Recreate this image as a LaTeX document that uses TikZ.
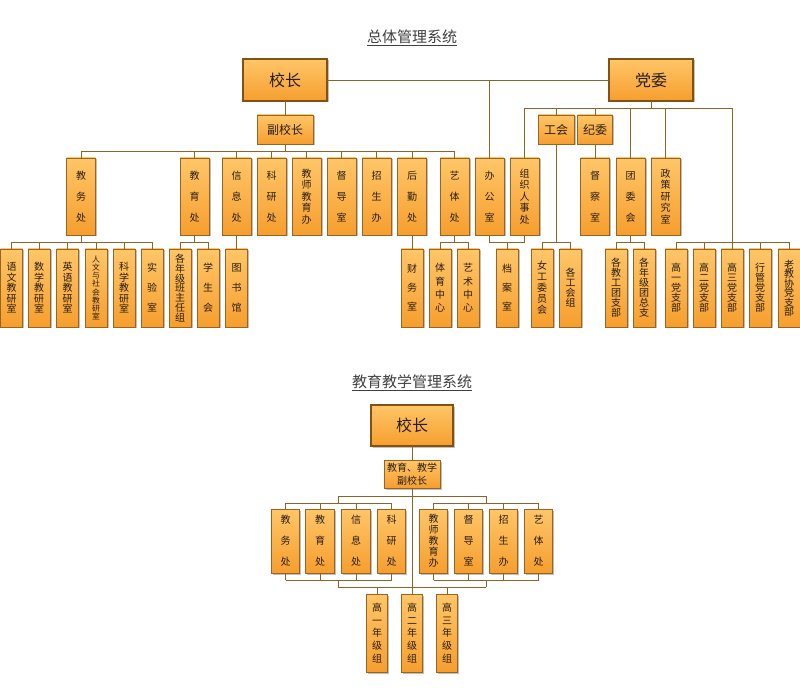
\documentclass[tikz,border=0pt]{standalone}
\usepackage{fontspec}
\setmainfont{Noto Sans CJK SC}
\usetikzlibrary{shadows}
\definecolor{boxtop}{RGB}{255,198,104}
\definecolor{boxbot}{RGB}{246,158,46}
\definecolor{boxline}{RGB}{150,100,35}
\definecolor{bigline}{RGB}{130,82,20}
\definecolor{conncol}{RGB}{140,100,40}
\definecolor{txt}{RGB}{40,30,20}
\begin{document}
\begin{tikzpicture}[x=1pt,y=-1pt,
 box/.style={draw=boxline, line width=0.8pt, top color=boxtop, bottom color=boxbot,
   inner sep=0pt, outer sep=0pt, align=center, text=txt,
   drop shadow={shadow xshift=1.5pt, shadow yshift=-1.5pt, fill=black!25, opacity=1}},
 big/.style={box, line width=1.6pt, draw=bigline, minimum width=84pt, minimum height=42pt,
   font=\fontsize{16}{20}\selectfont},
 mid/.style={box, minimum height=29pt, font=\fontsize{12}{14}\selectfont},
 rtwo/.style={box, minimum width=29pt, minimum height=77pt},
 rthree/.style={box, minimum width=22pt, minimum height=78pt},
 rtwob/.style={box, minimum width=28.5pt, minimum height=64pt},
 vsp/.style={font={\fontsize{10}{#1}\selectfont\lineskiplimit=-20pt}},
 conn/.style={draw=conncol, line width=0.8pt},
 ttl/.style={font=\fontsize{15}{17}\selectfont, text=black!75}]
\fill[white] (0,0) rectangle (800,700);
\useasboundingbox (0,0) rectangle (800,700);

% ---------- top system ----------
\node[ttl] (t1) at (412,38) {\underline{总体管理系统}};
\node[big] (xz) at (285,80) {校长};
\node[big] (dw) at (651,80) {党委};
\node[mid, minimum width=56pt] (fxz) at (285,129.5) {副校长};
\node[mid, minimum width=36pt] (gh) at (556,129.5) {工会};
\node[mid, minimum width=35pt] (jw) at (595,129.5) {纪委};

% row 2
\node[rtwo,vsp=21] (jwc) at (81,196.5) {教\\务\\处};
\node[rtwo,vsp=21] (jyc) at (194.5,196.5) {教\\育\\处};
\node[rtwo,vsp=21] (xxc) at (236.5,196.5) {信\\息\\处};
\node[rtwo,vsp=21] (kyc) at (271.5,196.5) {科\\研\\处};
\node[rtwo,vsp=11.5] (jsjy) at (306.5,196.5) {教\\师\\教\\育\\办};
\node[rtwo,vsp=21] (ddc) at (341.5,196.5) {督\\导\\室};
\node[rtwo,vsp=21] (zsb) at (376.5,196.5) {招\\生\\办};
\node[rtwo,vsp=21] (hqc) at (412,196.5) {后\\勤\\处};
\node[rtwo,vsp=21] (ytc) at (454.5,196.5) {艺\\体\\处};
\node[rtwo,vsp=21] (bgs) at (489.5,196.5) {办\\公\\室};
\node[rtwo,vsp=11.5] (zzrs) at (524.5,196.5) {组\\织\\人\\事\\处};
\node[rtwo,vsp=21] (dcs) at (595,196.5) {督\\察\\室};
\node[rtwo,vsp=21] (twh) at (630.5,196.5) {团\\委\\会};
\node[rtwo,vsp=11.5] (zcyj) at (665.5,196.5) {政\\策\\研\\究\\室};

% row 3
\node[rthree,vsp=10.5] (yw) at (11.5,288) {语\\文\\教\\研\\室};
\node[rthree,vsp=10.5] (sx) at (39,288) {数\\学\\教\\研\\室};
\node[rthree,vsp=10.5] (yy) at (67.5,288) {英\\语\\教\\研\\室};
\node[rthree,font={\fontsize{7.8}{8.2}\selectfont\lineskiplimit=-20pt}] (rw) at (96,288) {人\\文\\与\\社\\会\\教\\研\\室};
\node[rthree,vsp=10.5] (kx) at (124,288) {科\\学\\教\\研\\室};
\node[rthree,vsp=20] (sys) at (152,288) {实\\验\\室};
\node[rthree,vsp=9.8] (bzr) at (180,288) {各\\年\\级\\班\\主\\任\\组};
\node[rthree,vsp=20] (xsh) at (208,288) {学\\生\\会};
\node[rthree,vsp=20] (tsg) at (236.5,288) {图\\书\\馆};
\node[rthree,vsp=19] (cws) at (412,288) {财\\务\\室};
\node[rthree,vsp=13.3] (tyzx) at (440,288) {体\\育\\中\\心};
\node[rthree,vsp=13.3] (yszx) at (468,288) {艺\\术\\中\\心};
\node[rthree,vsp=19] (das) at (507,288) {档\\案\\室};
\node[rthree,vsp=11] (ngw) at (542,288) {女\\工\\委\\员\\会};
\node[rthree,vsp=10] (ghz) at (570.5,288) {各\\工\\会\\组};
\node[rthree,vsp=10] (gjt) at (616,288) {各\\教\\工\\团\\支\\部};
\node[rthree,vsp=10] (gnt) at (644,288) {各\\年\\级\\团\\总\\支};
\node[rthree,vsp=10] (gyd) at (676,288) {高\\一\\党\\支\\部};
\node[rthree,vsp=10] (ged) at (704,288) {高\\二\\党\\支\\部};
\node[rthree,vsp=10] (gsd) at (732,288) {高\\三\\党\\支\\部};
\node[rthree,vsp=10] (xgd) at (760,288) {行\\管\\党\\支\\部};
\node[rthree,vsp=9.5] (ljx) at (789,288) {老\\教\\协\\党\\支\\部};

% connectors top
\coordinate (bA) at (0,151);
\coordinate (bB) at (0,108);
\coordinate (bC) at (0,242);
\draw[conn] (xz.east) -- (dw.west);
\draw[conn] (bgs.north |- xz.east) -- (bgs.north);
\draw[conn] (xz.south) -- (fxz.north);
\draw[conn] (fxz.south) -- (fxz.south |- bA);
\draw[conn] (jwc.north |- bA) -- (ytc.north |- bA);
\foreach \n in {jwc,jyc,xxc,kyc,jsjy,ddc,zsb,hqc,ytc}
  \draw[conn] (\n.north |- bA) -- (\n.north);
\draw[conn] (dw.south) -- (dw.south |- bB);
\draw[conn] (zzrs.north |- bB) -- (gsd.north |- bB);
\foreach \n in {zzrs,gh,jw,twh,zcyj}
  \draw[conn] (\n.north |- bB) -- (\n.north);
\draw[conn] (gsd.north |- bB) -- (gsd.north |- bC);
\draw[conn] (jw.south) -- (dcs.north);
\draw[conn] (gh.south) -- (gh.south |- bC);
% row 3 links
\draw[conn] (jwc.south) -- (jwc.south |- bC);
\draw[conn] (yw.north |- bC) -- (sys.north |- bC);
\foreach \n in {yw,sx,yy,rw,kx,sys}
  \draw[conn] (\n.north |- bC) -- (\n.north);
\draw[conn] (jyc.south) -- (jyc.south |- bC);
\draw[conn] (bzr.north |- bC) -- (xsh.north |- bC);
\foreach \n in {bzr,xsh}
  \draw[conn] (\n.north |- bC) -- (\n.north);
\draw[conn] (xxc.south) -- (tsg.north);
\draw[conn] (hqc.south) -- (cws.north);
\draw[conn] (ytc.south) -- (ytc.south |- bC);
\draw[conn] (tyzx.north |- bC) -- (yszx.north |- bC);
\foreach \n in {tyzx,yszx}
  \draw[conn] (\n.north |- bC) -- (\n.north);
\draw[conn] (bgs.south) -- (bgs.south |- bC) -- (zzrs.south |- bC) -- (zzrs.south);
\draw[conn] (das.north |- bC) -- (das.north);
\draw[conn] (ngw.north |- bC) -- (ghz.north |- bC);
\foreach \n in {ngw,ghz}
  \draw[conn] (\n.north |- bC) -- (\n.north);
\draw[conn] (twh.south) -- (twh.south |- bC);
\draw[conn] (gjt.north |- bC) -- (gnt.north |- bC);
\foreach \n in {gjt,gnt}
  \draw[conn] (\n.north |- bC) -- (\n.north);
\draw[conn] (gyd.north |- bC) -- (ljx.north |- bC);
\foreach \n in {gyd,ged,gsd,xgd,ljx}
  \draw[conn] (\n.north |- bC) -- (\n.north);

% ---------- bottom system ----------
\node[ttl] (t2) at (412,383) {\underline{教育教学管理系统}};
\node[big, minimum width=82pt, minimum height=41pt] (xzb) at (412,425.5) {校长};
\node[mid, minimum width=56pt, minimum height=28pt, font=\fontsize{10}{13}\selectfont] (fxzb) at (412,474) {教育、教学\\副校长};

\node[rtwob,vsp=21] (jwcb) at (285.5,541) {教\\务\\处};
\node[rtwob,vsp=21] (jycb) at (320,541) {教\\育\\处};
\node[rtwob,vsp=21] (xxcb) at (356,541) {信\\息\\处};
\node[rtwob,vsp=21] (kycb) at (391.5,541) {科\\研\\处};
\node[rtwob,vsp=11] (jsjyb) at (433.5,541) {教\\师\\教\\育\\办};
\node[rtwob,vsp=21] (ddcb) at (468.5,541) {督\\导\\室};
\node[rtwob,vsp=21] (zsbb) at (503.5,541) {招\\生\\办};
\node[rtwob,vsp=21] (ytcb) at (538.5,541) {艺\\体\\处};

\node[rthree,minimum width=21pt,vsp=12.7] (ga) at (377,633) {高\\一\\年\\级\\组};
\node[rthree,minimum width=21pt,vsp=12.7] (gb) at (412,633) {高\\二\\年\\级\\组};
\node[rthree,minimum width=21pt,vsp=12.7] (gc) at (447,633) {高\\三\\年\\级\\组};

\coordinate (ba) at (0,496);
\coordinate (bb) at (0,503);
\coordinate (bc) at (0,580);
\coordinate (bd) at (0,587);
\coordinate (lm) at (338,0);
\coordinate (rm) at (486,0);
\draw[conn] (xzb.south) -- (fxzb.north);
\draw[conn] (fxzb.south) -- (gb.north);
\draw[conn] (lm |- ba) -- (rm |- ba);
\draw[conn] (lm |- ba) -- (lm |- bb);
\draw[conn] (rm |- ba) -- (rm |- bb);
\draw[conn] (jwcb.north |- bb) -- (kycb.north |- bb);
\draw[conn] (jsjyb.north |- bb) -- (ytcb.north |- bb);
\foreach \n in {jwcb,jycb,xxcb,kycb,jsjyb,ddcb,zsbb,ytcb}{
  \draw[conn] (\n.north |- bb) -- (\n.north);
  \draw[conn] (\n.south) -- (\n.south |- bc);
}
\draw[conn] (jwcb.south |- bc) -- (kycb.south |- bc);
\draw[conn] (jsjyb.south |- bc) -- (ytcb.south |- bc);
\draw[conn] (lm |- bc) -- (lm |- bd);
\draw[conn] (rm |- bc) -- (rm |- bd);
\draw[conn] (lm |- bd) -- (rm |- bd);
\draw[conn] (ga.north |- bd) -- (ga.north);
\draw[conn] (gc.north |- bd) -- (gc.north);
\end{tikzpicture}
\end{document}
